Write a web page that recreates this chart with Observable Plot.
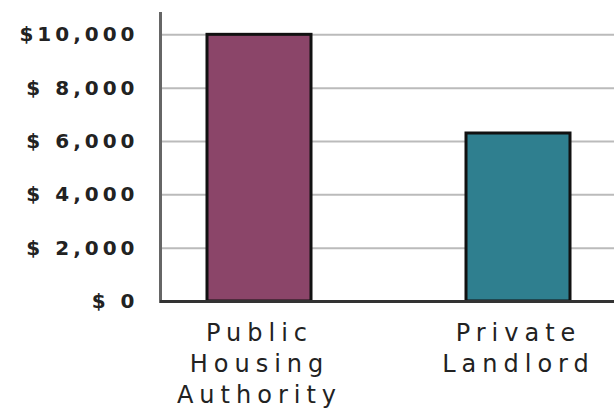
<!DOCTYPE html>
<html><head><meta charset="utf-8">
<script src="https://cdn.jsdelivr.net/npm/d3@7"></script>
<script src="https://cdn.jsdelivr.net/npm/@observablehq/plot@0.6"></script>
<style>
body{margin:0;background:#fff;}
g[aria-label="y-axis tick label"] text{letter-spacing:4px;}
g[aria-label="text"] text{letter-spacing:6px;}
</style>
</head><body><div id="chart"></div>
<script>
const categories = ["Public Housing Authority", "Private Landlord"];
const categoryLabels = ["Public\nHousing\nAuthority", "Private\nLandlord"];
const values = [10000, 6300];
const colors = ["#8b4569", "#2f7f8f"];
const yTicks = [0, 2000, 4000, 6000, 8000, 10000];
const yTickLabels = ["$ 0", "$ 2,000", "$ 4,000", "$ 6,000", "$ 8,000", "$10,000"];

const data = categories.map((c, i) => ({category: c, value: values[i], label: categoryLabels[i]}));

const chart = Plot.plot({
  width: 614, height: 409,
  marginLeft: 160, marginRight: 0, marginTop: 13, marginBottom: 108,
  style: {background: "#fff", fontFamily: "DejaVu Sans", color: "#222"},
  x: {domain: categories, range: [129, 647], paddingInner: 0.6, paddingOuter: 0.3, axis: null},
  y: {domain: [0, 10800], axis: null},
  color: {domain: categories, range: colors},
  marks: [
    Plot.gridY(yTicks, {stroke: "#bbb", strokeOpacity: 1, strokeWidth: 2}),
    Plot.barY(data, {x: "category", y: "value", fill: "category", stroke: "#111", strokeWidth: 3}),
    Plot.frame({anchor: "left", stroke: "#666", strokeWidth: 3}),
    Plot.ruleY([0], {stroke: "#333", strokeWidth: 3}),
    Plot.axisY(yTicks, {
      tickFormat: d => yTickLabels[yTicks.indexOf(d)], label: null,
      tickSize: 0, tickPadding: 22, fontSize: 20, fontWeight: "bold", fill: "#222"
    }),
    Plot.text(data, {
      x: "category", text: "label", frameAnchor: "bottom", lineAnchor: "top",
      dy: 18, lineHeight: 1.29, fontSize: 24, fill: "#222"
    })
  ]
});
document.getElementById("chart").append(chart);
</script>
</body></html>
